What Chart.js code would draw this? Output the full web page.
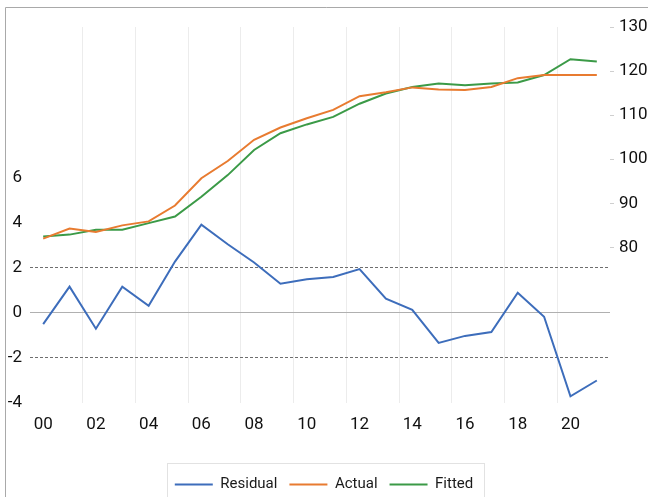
<!DOCTYPE html>
<html>
<head>
<meta charset="utf-8">
<script src="https://cdn.jsdelivr.net/npm/chart.js@4/dist/chart.umd.min.js"></script>
<style>
  html, body { margin: 0; padding: 0; background: #fff; }
  #wrap { position: relative; width: 648px; height: 497px; }
</style>
</head>
<body>
<div id="wrap"><canvas id="resid-graph" width="648" height="497"></canvas></div>
<script>
// years 2000..2021, labelled every second year
var years = ['00','01','02','03','04','05','06','07','08','09','10',
             '11','12','13','14','15','16','17','18','19','20','21'];
var residual = [-0.5, 1.17, -0.7, 1.17, 0.32, 2.28, 3.92, 3.05, 2.24, 1.3, 1.5,
                1.6, 1.95, 0.63, 0.14, -1.33, -1.02, -0.85, 0.9, -0.17, -3.7, -3.0];
var actual = [82.0, 84.3, 83.5, 85.0, 85.9, 89.5, 95.7, 99.6, 104.4, 107.2, 109.3,
              111.2, 114.3, 115.2, 116.3, 115.8, 115.7, 116.4, 118.4, 119.1, 119.1, 119.1];
var fitted = [82.5, 82.9, 84.0, 84.0, 85.5, 87.0, 91.5, 96.4, 102.1, 105.9, 107.9,
              109.6, 112.6, 114.9, 116.4, 117.2, 116.8, 117.2, 117.4, 119.1, 122.7, 122.2];
var leftTicks = [-4, -2, 0, 2, 4, 6];
var rightTicks = [80, 90, 100, 110, 120, 130];

var fontFam = "'Liberation Sans Narrow', 'Roboto', 'Open Sans', sans-serif";
var legendShift = -5;

var framePlugin = {
    id: 'frame',
    beforeDraw: function (chart) {
        var ctx = chart.ctx;
        ctx.save();
        ctx.strokeStyle = '#a9a9a9';
        ctx.lineWidth = 1;
        ctx.beginPath();
        ctx.moveTo(5.5, 497);
        ctx.lineTo(5.5, 7.5);
        ctx.lineTo(648, 7.5);
        ctx.stroke();
        ctx.restore();
    },
    afterDraw: function (chart) {
        var lg = chart.legend, ctx = chart.ctx;
        if (!lg) return;
        ctx.save();
        ctx.strokeStyle = '#e2e2e2';
        ctx.lineWidth = 1;
        var items = lg.legendHitBoxes;
        var x0 = items[0].left - 8, x1 = items[items.length - 1].left + items[items.length - 1].width + 11;
        ctx.strokeRect(Math.round(x0) + 0.5, 463.5, Math.round(x1 - x0), 40);
        ctx.restore();
    }
};

var canvas = document.getElementById('resid-graph').getContext('2d');
var residChart = new Chart(canvas, {
    type: 'line',
    data: {
        labels: years,
        datasets: [
            {
                label: 'Residual',
                data: residual,
                yAxisID: 'yL',
                borderColor: '#3d6dbb',
                backgroundColor: '#3d6dbb',
                borderWidth: 2,
                pointRadius: 0,
                tension: 0
            },
            {
                label: 'Actual',
                data: actual,
                yAxisID: 'yR',
                borderColor: '#e87b30',
                backgroundColor: '#e87b30',
                borderWidth: 2,
                pointRadius: 0,
                tension: 0
            },
            {
                label: 'Fitted',
                data: fitted,
                yAxisID: 'yR',
                borderColor: '#3b9a47',
                backgroundColor: '#3b9a47',
                borderWidth: 2,
                pointRadius: 0,
                tension: 0
            }
        ]
    },
    options: {
        responsive: false,
        animation: false,
        layout: { padding: { top: 27, left: 0, right: 0, bottom: legendShift } },
        plugins: {
            tooltip: { enabled: false },
            legend: {
                position: 'bottom',
                labels: {
                    usePointStyle: true,
                    pointStyle: 'line',
                    pointStyleWidth: 38,
                    padding: 12,
                    color: '#1a1a1a',
                    font: { family: fontFam, size: 15 }
                }
            }
        },
        scales: {
            x: {
                offset: true,
                border: { display: false },
                grid: {
                    offset: true,
                    drawTicks: false,
                    color: function (c) {
                        return (c.index % 2 === 0 && c.index > 0 && c.index < years.length) ? '#ececec' : 'rgba(0,0,0,0)';
                    }
                },
                ticks: {
                    autoSkip: false,
                    maxRotation: 0,
                    padding: 12,
                    color: '#111',
                    font: { family: fontFam, size: 17 },
                    callback: function (v, i) { return i % 2 === 0 ? years[i] : ''; }
                },
                afterFit: function (s) {
                    var lh = s.chart.legend ? s.chart.legend.height : 30;
                    s.height = 497 - 403 - lh - legendShift;
                }
            },
            yL: {
                position: 'left',
                min: -4,
                max: 12.7,
                border: {
                    display: false,
                    dash: function (c) { return c.tick && c.tick.value === 0 ? [] : [3, 2]; }
                },
                grid: {
                    drawTicks: false,
                    lineWidth: 1,
                    color: function (c) {
                        if (!c.tick) return 'rgba(0,0,0,0)';
                        if (c.tick.value === 0) return '#b0b0b0';
                        if (c.tick.value === 2 || c.tick.value === -2) return '#6e6e6e';
                        return 'rgba(0,0,0,0)';
                    }
                },
                afterBuildTicks: function (s) {
                    s.ticks = leftTicks.map(function (v) { return { value: v }; });
                },
                ticks: {
                    padding: 8,
                    color: '#111',
                    font: { family: fontFam, size: 17 }
                },
                afterFit: function (s) { s.width = 30; }
            },
            yR: {
                position: 'right',
                min: 44.7,
                max: 130,
                border: { display: false },
                grid: {
                    drawOnChartArea: false,
                    tickLength: 4,
                    tickColor: '#cfcfcf'
                },
                afterBuildTicks: function (s) {
                    s.ticks = rightTicks.map(function (v) { return { value: v }; });
                },
                ticks: {
                    padding: 5,
                    color: '#111',
                    font: { family: fontFam, size: 17 }
                },
                afterFit: function (s) { s.width = 38; }
            }
        }
    },
    plugins: [framePlugin]
});
</script>
</body>
</html>
